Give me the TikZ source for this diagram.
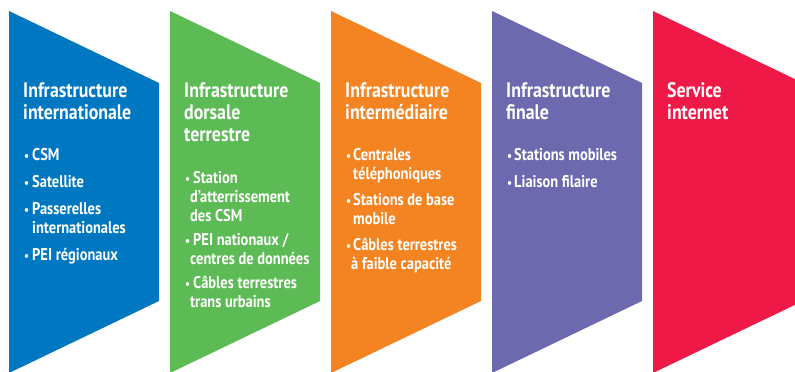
\documentclass[tikz,border=0pt]{standalone}
\usepackage{fontspec}
\setmainfont{PT Sans}[FakeStretch=0.85]
\definecolor{cblue}{HTML}{0078C1}
\definecolor{cgreen}{HTML}{5CBB54}
\definecolor{corange}{HTML}{F48421}
\definecolor{cpurple}{HTML}{6D69AE}
\definecolor{cred}{HTML}{EE1946}
\tikzset{
  ttl/.style={anchor=base west, inner sep=0pt, text=white, font=\bfseries\fontsize{21}{22}\selectfont},
  itm/.style={anchor=base west, inner sep=0pt, text=white, font=\bfseries\fontsize{17}{19}\selectfont},
  bul/.style={anchor=base west, inner sep=0pt, text=white, font=\bfseries\fontsize{13}{19}\selectfont},
}
\begin{document}
\begin{tikzpicture}[x=1pt,y=-1pt]
\useasboundingbox (0,0) rectangle (795,372);
\clip (0,0) rectangle (795,372);
\fill[white] (0,0) rectangle (795,372);
% chevrons
\fill[cblue]   (9,11)   -- (159,83) -- (159,301) -- (9,373)   -- cycle;
\fill[cgreen]  (170,11) -- (320,83) -- (320,301) -- (170,373) -- cycle;
\fill[corange] (331,11) -- (481,83) -- (481,301) -- (331,373) -- cycle;
\fill[cpurple] (492,11) -- (642,83) -- (642,301) -- (492,373) -- cycle;
\fill[cred]    (653,11) -- (803,83) -- (803,301) -- (653,373) -- cycle;
% column 1
\node[ttl] (t1a) at (23,97) {Infrastructure};
\node[ttl] (t1b) at (23,119) {internationale};
\node[bul] (b1a) at (24,160) {•};
\node[itm] (i1a) at (32,160) {CSM};
\node[bul] (b1b) at (24,187) {•};
\node[itm] (i1b) at (32,187) {Satellite};
\node[bul] (b1c) at (24,214) {•};
\node[itm] (i1c) at (32,214) {Passerelles};
\node[itm] (i1d) at (32,233) {internationales};
\node[bul] (b1e) at (24,260) {•};
\node[itm] (i1e) at (32,260) {PEI régionaux};
% column 2
\node[ttl] (t2a) at (184,97) {Infrastructure};
\node[ttl] (t2b) at (184,119) {dorsale};
\node[ttl] (t2c) at (184,141) {terrestre};
\node[bul] (b2a) at (185,183) {•};
\node[itm] (i2a) at (193,183) {Station};
\node[itm] (i2b) at (190,202) {d’atterrissement};
\node[itm] (i2c) at (190,221) {des CSM};
\node[bul] (b2d) at (185,245) {•};
\node[itm] (i2d) at (193,245) {PEI nationaux /};
\node[itm] (i2e) at (190,264) {centres de données};
\node[bul] (b2f) at (185,288) {•};
\node[itm] (i2f) at (193,288) {Câbles terrestres};
\node[itm] (i2g) at (190,307) {trans urbains};
% column 3
\node[ttl] (t3a) at (345,97) {Infrastructure};
\node[ttl] (t3b) at (345,119) {intermédiaire};
\node[bul] (b3a) at (346,160) {•};
\node[itm] (i3a) at (353,160) {Centrales};
\node[itm] (i3b) at (353,179) {téléphoniques};
\node[bul] (b3c) at (346,205) {•};
\node[itm] (i3c) at (353,205) {Stations de base};
\node[itm] (i3d) at (353,224) {mobile};
\node[bul] (b3e) at (346,250) {•};
\node[itm] (i3e) at (353,250) {Câbles terrestres};
\node[itm] (i3f) at (351,269) {à faible capacité};
% column 4
\node[ttl] (t4a) at (506,97) {Infrastructure};
\node[ttl] (t4b) at (506,119) {finale};
\node[bul] (b4a) at (507,160) {•};
\node[itm] (i4a) at (514,160) {Stations mobiles};
\node[bul] (b4b) at (507,187) {•};
\node[itm] (i4b) at (514,187) {Liaison filaire};
% column 5
\node[ttl] (t5a) at (667,97) {Service};
\node[ttl] (t5b) at (667,119) {internet};
\end{tikzpicture}
\end{document}
